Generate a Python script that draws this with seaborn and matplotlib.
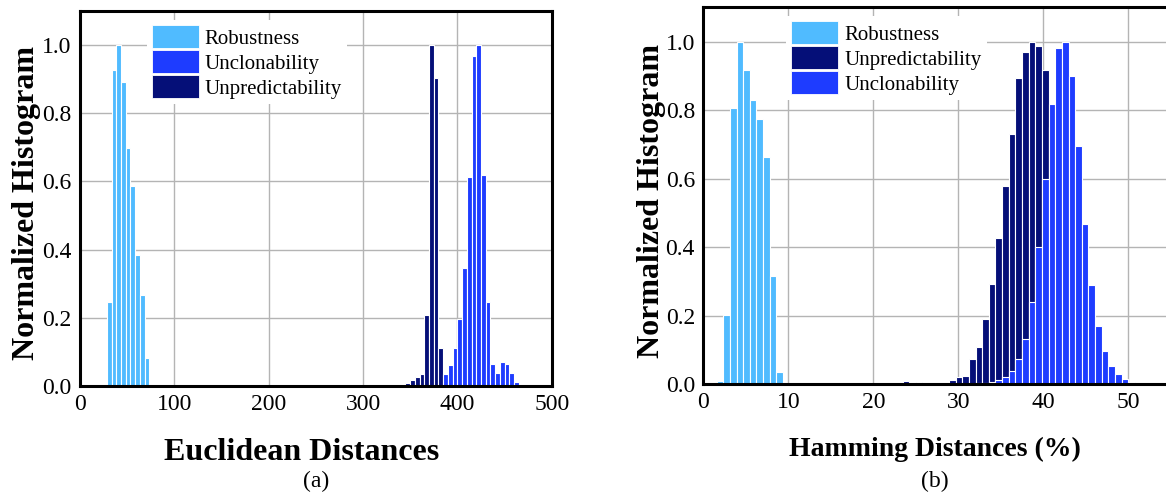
import numpy as np
import pandas as pd
import matplotlib
matplotlib.use("Agg")
import matplotlib.pyplot as plt
from matplotlib.patches import Patch
import seaborn as sns

# ---------------- data ----------------
# (a) Euclidean distances, bins of width 5
EU_BIN = 5.0
eu_rob_centers = [31, 36, 41, 46, 51, 56, 61, 66, 71]
eu_rob_heights = [0.245, 0.927, 1.0, 0.892, 0.699, 0.587, 0.383, 0.267, 0.083]

eu_unpred_centers = [347.5, 352.5, 357.5, 362.5, 367.5, 372.5, 377.5, 382.5]
eu_unpred_heights = [0.010, 0.018, 0.025, 0.035, 0.207, 1.0, 0.904, 0.112]
eu_unpred_tail_centers = [247.5, 252.5]
eu_unpred_tail_heights = [0.003, 0.002]

eu_uncl_centers = [387.5, 392.5, 397.5, 402.5, 407.5, 412.5, 417.5, 422.5,
                   427.5, 432.5, 437.5, 442.5, 447.5, 452.5, 457.5, 462.5]
eu_uncl_heights = [0.035, 0.063, 0.110, 0.197, 0.347, 0.614, 0.968, 1.0,
                   0.619, 0.246, 0.065, 0.039, 0.069, 0.065, 0.038, 0.013]

# (b) Hamming distances of 128-bit responses, one bin per bit
BITS = 128
hd_rob_first_bit = 2
hd_rob_heights = [0.008, 0.202, 0.807, 1.0, 0.917, 0.828, 0.773, 0.663, 0.316, 0.036]

hd_unpred_first_bit = 26
hd_unpred_heights = [0.002, 0.002, 0.003, 0.004, 0.008, 0.007, 0.005, 0.002, 0.002,
                     0.001, 0.001, 0.012, 0.019, 0.023, 0.073, 0.109, 0.191, 0.292,
                     0.427, 0.577, 0.729, 0.894, 0.970, 1.0, 0.986, 0.918, 0.750,
                     0.580, 0.420, 0.280, 0.170, 0.100, 0.050, 0.025, 0.010]

hd_uncl_first_bit = 41
hd_uncl_heights = [0.002, 0.004, 0.006, 0.012, 0.019, 0.037, 0.072, 0.132, 0.238,
                   0.400, 0.599, 0.818, 0.980, 1.0, 0.899, 0.696, 0.468, 0.288,
                   0.168, 0.096, 0.053, 0.029, 0.015, 0.005]

COLORS = {"Robustness": "#50BBFF",
          "Unclonability": "#1E3CFF",
          "Unpredictability": "#050F78"}

# ---------------- style ----------------
sns.set_style("white")
plt.rcParams["font.family"] = ["Liberation Serif", "DejaVu Serif"]
plt.rcParams["text.color"] = "black"
plt.rcParams["axes.labelcolor"] = "black"
plt.rcParams["xtick.color"] = "black"
plt.rcParams["ytick.color"] = "black"

GRID_COLOR = "#b4b4b4"
TICK_FS = 17
LABEL_FS = 23
LEGEND_FS = 15


def hist_bars(ax, centers, heights, width, color):
    df = pd.DataFrame({"x": np.asarray(centers, dtype=float),
                       "w": np.asarray(heights, dtype=float)})
    lo = df["x"].iloc[0] - width / 2
    hi = df["x"].iloc[-1] + width / 2
    sns.histplot(data=df, x="x", weights="w", binwidth=width, binrange=(lo, hi),
                 ax=ax, color=color, alpha=1, edgecolor="white", linewidth=0.8,
                 stat="count")


def bit_centers(first_bit, n):
    bw = 100.0 / BITS
    return [(first_bit + i + 0.5) * bw for i in range(n)]


def style_axes(ax, xticks, xlim):
    ax.set_axisbelow(True)
    ax.set_xlim(*xlim)
    ax.set_ylim(0, 1.1)
    ax.set_xticks(list(xticks))
    yt = np.arange(0, 1.01, 0.2)
    ax.set_yticks(yt)
    ax.set_yticklabels([f"{v:.1f}" for v in yt])
    ax.grid(True, color=GRID_COLOR, linewidth=1.0)
    ax.tick_params(axis="both", length=0, labelsize=TICK_FS, pad=6,
                   labelcolor="black")
    for s in ax.spines.values():
        s.set_color("black")
        s.set_linewidth(2.2)
        s.set_zorder(3)


def add_legend(ax, order, anchor):
    handles = [Patch(facecolor=COLORS[k], edgecolor="white", linewidth=0.6, label=k)
               for k in order]
    leg = ax.legend(handles=handles, loc="upper left", bbox_to_anchor=anchor,
                    fontsize=LEGEND_FS, frameon=True, fancybox=False,
                    handlelength=2.25, handleheight=1.3, handletextpad=0.3,
                    labelspacing=0.08, borderpad=0.25, borderaxespad=0)
    leg.get_frame().set_facecolor("white")
    leg.get_frame().set_edgecolor("none")
    leg.get_frame().set_alpha(1)
    for t in leg.get_texts():
        t.set_color("black")


W, H = 1166, 493
fig = plt.figure(figsize=(W / 100, H / 100), dpi=100)

# ---------------- (a) ----------------
axL = fig.add_axes([80 / W, (H - 386) / H, (551.7 - 80) / W, (386 - 10.7) / H])
hist_bars(axL, eu_rob_centers, eu_rob_heights, EU_BIN, COLORS["Robustness"])
hist_bars(axL, eu_unpred_tail_centers, eu_unpred_tail_heights, EU_BIN, COLORS["Unpredictability"])
hist_bars(axL, eu_unpred_centers, eu_unpred_heights, EU_BIN, COLORS["Unpredictability"])
hist_bars(axL, eu_uncl_centers, eu_uncl_heights, EU_BIN, COLORS["Unclonability"])
style_axes(axL, range(0, 501, 100), (0, 500))
axL.set_xlabel("Euclidean Distances", fontsize=LABEL_FS, fontweight="bold", labelpad=16)
axL.xaxis.label.set_x(0.47)
axL.set_ylabel("Normalized Histogram", fontsize=LABEL_FS, fontweight="bold", labelpad=1)
axL.yaxis.label.set_y(0.487)
add_legend(axL, ["Robustness", "Unclonability", "Unpredictability"], (0.141, 0.975))

# ---------------- (b) ----------------
right_w = W - 703.3
axR = fig.add_axes([703.3 / W, (H - 384) / H, right_w / W, (384 - 7.3) / H])
hist_bars(axR, bit_centers(hd_rob_first_bit, len(hd_rob_heights)), hd_rob_heights,
          100.0 / BITS, COLORS["Robustness"])
hist_bars(axR, bit_centers(hd_unpred_first_bit, len(hd_unpred_heights)), hd_unpred_heights,
          100.0 / BITS, COLORS["Unpredictability"])
hist_bars(axR, bit_centers(hd_uncl_first_bit, len(hd_uncl_heights)), hd_uncl_heights,
          100.0 / BITS, COLORS["Unclonability"])
style_axes(axR, range(0, 51, 10), (0, right_w / 8.5))
axR.spines["right"].set_visible(False)
axR.set_xlabel("Hamming Distances (%)", fontsize=20, fontweight="bold", labelpad=17)
axR.set_ylabel("Normalized Histogram", fontsize=LABEL_FS, fontweight="bold", labelpad=0)
axR.yaxis.label.set_y(0.487)
add_legend(axR, ["Robustness", "Unpredictability", "Unclonability"], (0.179, 0.977))

# panel captions
fig.text(316 / W, 1 - 481 / H, "(a)", fontsize=TICK_FS, ha="center", va="center")
fig.text(935 / W, 1 - 481 / H, "(b)", fontsize=TICK_FS, ha="center", va="center")

fig.savefig("out.png", dpi=100)
